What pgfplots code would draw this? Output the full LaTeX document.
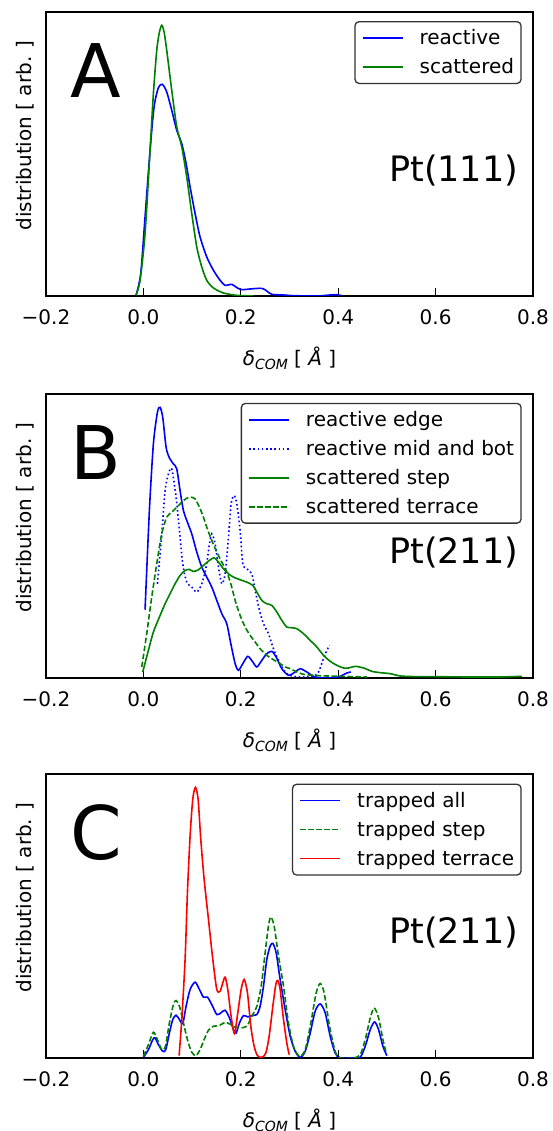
\documentclass[border=0pt]{standalone}
\usepackage{fontspec}
\setmainfont{DejaVu Sans}
\usepackage{pgfplots}
\pgfplotsset{compat=1.18}
\definecolor{mblue}{rgb}{0,0,1}
\definecolor{mgreen}{rgb}{0,0.5,0}
\definecolor{mred}{rgb}{1,0,0}
\newcommand{\ls}{\rule[-5pt]{0pt}{20pt}}
\newcommand{\xlab}{{\itshape δ}{\itshape\fontsize{14}{14}\selectfont\raisebox{-4pt}{COM}} [ {\itshape Å} ]}
\pgfplotsset{
  panel/.style={
    scale only axis, width=487pt, height=284pt,
    xmin=-0.2, xmax=0.8, ymin=0,
    xtick={-0.2,0,0.2,0.4,0.6,0.8},
    xticklabels={−0.2,0.0,0.2,0.4,0.6,0.8},
    ytick=\empty,
    xtick pos=bottom,
    tick align=inside, major tick length=8pt,
    axis line style={line width=1.3pt},
    every tick/.style={black, line width=1.3pt},
    tick label style={font=\fontsize{20}{24}\selectfont},
    xticklabel style={inner sep=0pt, yshift=-13pt},
    xlabel={\xlab},
    ylabel={distribution [ arb. ]},
    label style={font=\fontsize{20}{24}\selectfont},
    xlabel style={at={(axis description cs:0.5,0)}, anchor=center, yshift=-62pt},
    ylabel style={at={(axis description cs:-0.0431,0.565)}, anchor=center},
    legend cell align=left,
    legend image code/.code={\draw[##1, line width=1.6pt] (0pt,0pt) -- (40pt,0pt);},
    legend style={anchor=north east, draw=black!80, line width=1.3pt,
      rounded corners=4pt, fill=white, font=\fontsize{20}{24}\selectfont,
      inner xsep=7pt, inner ysep=8pt, column sep=16pt, row sep=12.3pt,
      nodes={inner sep=0pt}},
    every axis plot/.append style={line width=1.6pt, smooth, tension=0.45},
  },
  dotl/.style={dash pattern=on 1.6pt off 2.6pt},
  dashl/.style={dash pattern=on 5.5pt off 2.5pt},
}
\begin{document}
\begin{tikzpicture}
\useasboundingbox (0pt,0pt) rectangle (552pt,1131pt);
% ---------------- A
\begin{axis}[panel, at={(46pt,835pt)}, anchor=south west, ymax=852,
  legend style={at={(rel axis cs:0.9768,0.968)}}]
\addplot[mblue] coordinates {(-0.0151,2) (-0.0055,67) (0.0034,237) (0.0137,437) (0.0219,567) (0.0308,625) (0.0390,635) (0.0479,612) (0.0582,557) (0.0685,497) (0.0788,457) (0.0877,397) (0.0959,327) (0.1062,247) (0.1164,177) (0.1301,117) (0.1438,77) (0.1575,47) (0.1678,32) (0.1815,35) (0.1918,25) (0.2021,19) (0.2192,21) (0.2432,23) (0.2534,15) (0.2637,5) (0.2877,3) (0.3082,1) (0.3562,0) (0.3836,3) (0.3973,4) (0.4075,1)};
\addlegendentry{\ls reactive}
\addplot[mgreen] coordinates {(-0.0151,2) (-0.0068,47) (0.0034,187) (0.0137,437) (0.0205,607) (0.0274,737) (0.0329,792) (0.0377,812) (0.0425,792) (0.0479,737) (0.0582,617) (0.0685,507) (0.0788,447) (0.0890,357) (0.0993,247) (0.1096,147) (0.1199,87) (0.1301,47) (0.1438,24) (0.1644,9) (0.1918,2) (0.2260,0)};
\addlegendentry{\ls scattered}
\node[font=\fontsize{74}{80}\selectfont, anchor=center] at (rel axis cs:0.103,0.795) {A};
\node[font=\fontsize{35}{40}\selectfont, anchor=base east, inner sep=0pt] at (rel axis cs:0.970,0.402) {Pt(111)};
\end{axis}
% ---------------- B
\begin{axis}[panel, at={(46pt,453pt)}, anchor=south west, ymax=853,
  legend style={at={(rel axis cs:0.9768,0.969)}}]
\addplot[mblue] coordinates {(0.0034,205) (0.0123,503) (0.0205,703) (0.0288,798) (0.0342,813) (0.0397,783) (0.0466,693) (0.0534,661) (0.0616,643) (0.0685,628) (0.0753,563) (0.0822,503) (0.0904,468) (0.0993,433) (0.1096,378) (0.1199,333) (0.1301,303) (0.1404,273) (0.1507,233) (0.1610,193) (0.1712,163) (0.1795,103) (0.1884,43) (0.1952,23) (0.2041,43) (0.2144,65) (0.2247,48) (0.2329,33) (0.2432,53) (0.2534,73) (0.2637,80) (0.2726,63) (0.2842,28) (0.2979,8) (0.3116,18) (0.3219,28) (0.3356,18) (0.3493,5) (0.3630,1) (0.3904,0) (0.4041,5) (0.4178,15) (0.4260,18)};
\addlegendentry{\ls reactive edge}
\addplot[mblue, dotl] coordinates {(0.0288,283) (0.0377,433) (0.0445,563) (0.0514,613) (0.0582,628) (0.0671,543) (0.0740,443) (0.0808,343) (0.0890,288) (0.0993,273) (0.1096,258) (0.1199,283) (0.1288,333) (0.1356,403) (0.1404,433) (0.1473,403) (0.1541,333) (0.1610,283) (0.1678,313) (0.1747,423) (0.1801,523) (0.1863,548) (0.1918,523) (0.1986,443) (0.2041,343) (0.2123,328) (0.2226,313) (0.2295,263) (0.2384,203) (0.2466,163) (0.2568,133) (0.2658,93) (0.2740,63) (0.2842,33) (0.2945,13) (0.3082,5) (0.3219,3) (0.3356,3) (0.3493,5) (0.3596,18) (0.3685,53) (0.3767,83) (0.3822,98)};
\addlegendentry{\ls reactive mid and bot}
\addplot[mgreen] coordinates {(-0.0014,18) (0.0103,83) (0.0205,138) (0.0329,183) (0.0445,223) (0.0548,253) (0.0651,283) (0.0753,308) (0.0856,323) (0.0945,326) (0.1027,320) (0.1130,325) (0.1233,338) (0.1336,351) (0.1452,361) (0.1541,348) (0.1644,328) (0.1747,313) (0.1849,303) (0.1986,295) (0.2123,288) (0.2247,278) (0.2329,258) (0.2432,233) (0.2534,223) (0.2637,218) (0.2740,198) (0.2842,173) (0.2945,153) (0.3048,151) (0.3151,148) (0.3288,133) (0.3425,113) (0.3562,93) (0.3699,68) (0.3836,50) (0.3973,38) (0.4110,30) (0.4212,30) (0.4349,35) (0.4521,30) (0.4692,20) (0.4863,16) (0.5068,13) (0.5274,6) (0.5616,4) (0.5959,4) (0.6644,3) (0.7329,3) (0.7774,5)};
\addlegendentry{\ls scattered step}
\addplot[mgreen, dashl] coordinates {(-0.0034,33) (0.0068,133) (0.0171,243) (0.0274,343) (0.0377,433) (0.0479,483) (0.0582,498) (0.0685,513) (0.0788,528) (0.0890,540) (0.0973,543) (0.1062,538) (0.1151,513) (0.1233,483) (0.1301,453) (0.1404,413) (0.1507,378) (0.1610,348) (0.1712,318) (0.1795,283) (0.1884,233) (0.1986,188) (0.2089,153) (0.2192,128) (0.2295,108) (0.2397,88) (0.2534,68) (0.2671,55) (0.2808,43) (0.2911,33) (0.3014,28) (0.3151,18) (0.3288,11) (0.3493,8) (0.3767,6) (0.4041,5) (0.4315,4) (0.4589,3)};
\addlegendentry{\ls scattered terrace}
\node[font=\fontsize{74}{80}\selectfont, anchor=center] at (rel axis cs:0.103,0.795) {B};
\node[font=\fontsize{35}{40}\selectfont, anchor=base east, inner sep=0pt] at (rel axis cs:0.970,0.402) {Pt(211)};
\end{axis}
% ---------------- C
\begin{axis}[panel, at={(46pt,73pt)}, anchor=south west, ymax=850,
  legend style={at={(rel axis cs:0.9768,0.966)}}]
\addplot[mblue] coordinates {(0,2) (0.0103,25) (0.0192,55) (0.0240,60) (0.0308,40) (0.0397,20) (0.0459,25) (0.0534,75) (0.0603,115) (0.0671,128) (0.0740,115) (0.0808,103) (0.0877,155) (0.0959,205) (0.1062,227) (0.1151,205) (0.1233,182) (0.1315,182) (0.1404,160) (0.1507,130) (0.1589,135) (0.1678,143) (0.1767,120) (0.1849,85) (0.1904,75) (0.1973,105) (0.2055,127) (0.2144,123) (0.2226,127) (0.2329,130) (0.2397,155) (0.2466,215) (0.2534,295) (0.2603,335) (0.2658,343) (0.2726,315) (0.2808,235) (0.2911,145) (0.3014,65) (0.3116,20) (0.3219,2) (0.3322,20) (0.3425,75) (0.3527,140) (0.3630,162) (0.3733,135) (0.3836,65) (0.3938,15) (0.4041,0) (0.4315,0) (0.4452,2) (0.4555,35) (0.4658,85) (0.4747,108) (0.4829,85) (0.4918,35) (0.5000,7)};
\addlegendentry{\ls trapped all}
\addplot[mgreen, dashl] coordinates {(0,5) (0.0103,40) (0.0205,77) (0.0288,55) (0.0377,25) (0.0452,35) (0.0534,105) (0.0616,160) (0.0671,172) (0.0740,155) (0.0822,105) (0.0904,55) (0.0993,17) (0.1082,7) (0.1164,25) (0.1247,55) (0.1336,83) (0.1438,95) (0.1562,97) (0.1678,107) (0.1795,100) (0.1884,92) (0.1986,90) (0.2123,95) (0.2226,125) (0.2329,155) (0.2418,215) (0.2500,315) (0.2568,395) (0.2616,422) (0.2685,395) (0.2774,305) (0.2877,215) (0.2979,105) (0.3082,35) (0.3205,5) (0.3322,25) (0.3438,105) (0.3548,195) (0.3630,223) (0.3712,195) (0.3822,95) (0.3938,20) (0.4041,0) (0.4315,0) (0.4452,10) (0.4555,55) (0.4658,120) (0.4740,150) (0.4829,120) (0.4918,55) (0.4986,15)};
\addlegendentry{\ls trapped step}
\addplot[mred] coordinates {(0.0733,7) (0.0788,115) (0.0856,295) (0.0904,495) (0.0959,665) (0.1014,775) (0.1068,810) (0.1123,775) (0.1178,655) (0.1247,535) (0.1336,415) (0.1425,295) (0.1507,205) (0.1575,200) (0.1630,225) (0.1678,242) (0.1733,205) (0.1801,125) (0.1870,73) (0.1938,135) (0.2007,205) (0.2068,235) (0.2137,195) (0.2205,95) (0.2274,35) (0.2342,7) (0.2432,2) (0.2514,15) (0.2582,65) (0.2658,155) (0.2719,220) (0.2760,232) (0.2808,205) (0.2877,115) (0.2945,45) (0.2993,10)};
\addlegendentry{\ls trapped terrace}
\node[font=\fontsize{74}{80}\selectfont, anchor=center] at (rel axis cs:0.103,0.795) {C};
\node[font=\fontsize{35}{40}\selectfont, anchor=base east, inner sep=0pt] at (rel axis cs:0.970,0.402) {Pt(211)};
\end{axis}
\end{tikzpicture}
\end{document}
